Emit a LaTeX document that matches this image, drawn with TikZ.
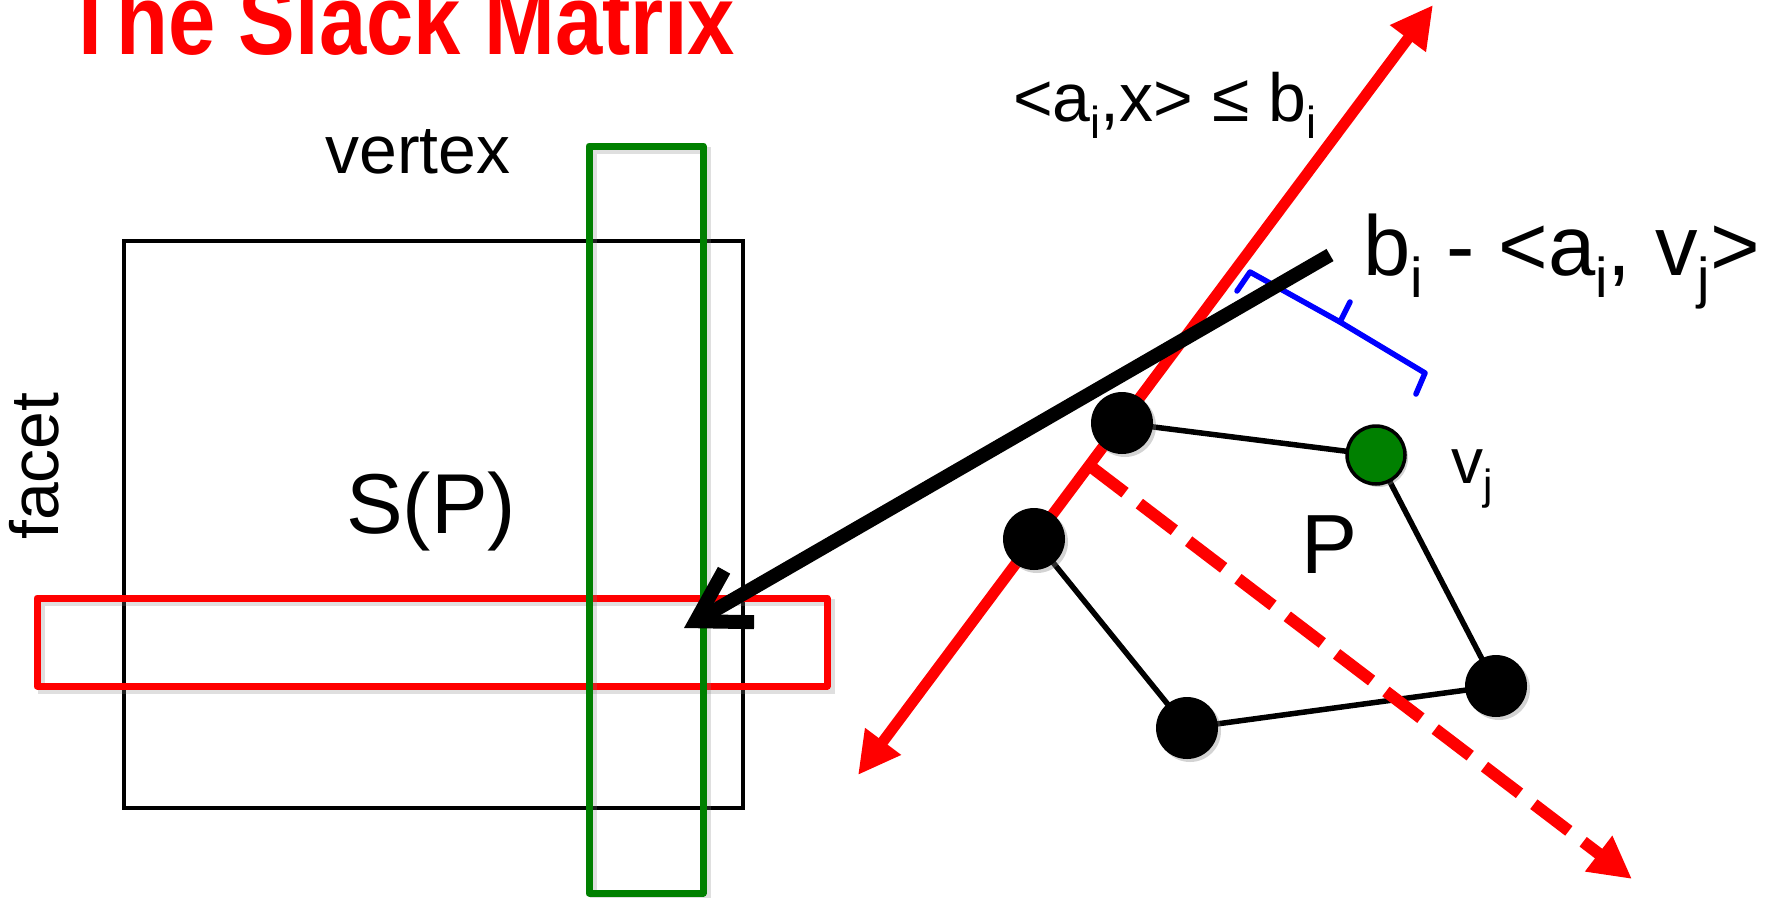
\documentclass[tikz,border=0pt]{standalone}
\usepackage{fontspec}
\setmainfont{Liberation Sans}
\usepackage{graphicx}
\usetikzlibrary{arrows.meta,shadows}
\newcommand\mysub[1]{\raisebox{-0.26em}{\scalebox{0.66}{#1}}}
\definecolor{pptgreen}{RGB}{0,128,0}
\definecolor{pptred}{RGB}{255,0,0}
\definecolor{pptblue}{RGB}{0,0,255}
\begin{document}
\begin{tikzpicture}[x=1pt,y=-1pt,
  shade line/.style={draw=black!50,opacity=0.25},
  matrixbox/.style={draw=black,line width=4.5pt},
  colbox/.style={draw=pptgreen,line width=7pt,line join=round},
  rowbox/.style={draw=pptred,line width=7pt,line join=round},
  facetline/.style={draw=pptred,line width=11pt,{Triangle[length=42pt,width=42pt]}-{Triangle[length=42pt,width=42pt]}},
  normalline/.style={draw=pptred,line width=12pt,dash pattern=on 44pt off 18pt,-{Triangle[length=42pt,width=42pt]}},
  edge/.style={draw=black,line width=5.5pt},
  vert/.style={circle,fill=black,minimum size=62pt,inner sep=0pt,
    drop shadow={shadow xshift=3pt,shadow yshift=-3pt,opacity=0.35}},
  gvert/.style={circle,fill=pptgreen,draw=black,line width=3.5pt,minimum size=58pt,inner sep=0pt,
    drop shadow={shadow xshift=3pt,shadow yshift=-3pt,opacity=0.35}},
  bracket/.style={draw=pptblue,line width=5.5pt,line join=round,line cap=round},
  pointer/.style={draw=black,line width=14pt,-{Straight Barb[length=50pt,width=60pt]}},
  lbl/.style={anchor=base west,inner sep=0pt,text=black}
]
\useasboundingbox (0,0) rectangle (1774,897);

% matrix and highlighted row/column
\draw[matrixbox] (124,241) rectangle (743,808);
\draw[shade line,line width=7pt] (41,602) rectangle (831,690);
\draw[rowbox] (37,598) rectangle (827,686);
\draw[shade line,line width=7pt] (593,150) rectangle (707,897);
\draw[colbox] (589,146) rectangle (703,893);

% polytope coordinates
\coordinate (pA) at (1122,423);
\coordinate (pV) at (1376,455);
\coordinate (pB) at (1034,539);
\coordinate (pC) at (1187,728);
\coordinate (pD) at (1496,686);

% facet line and normal
\coordinate (f1) at (858,775);
\coordinate (f2) at (1433,5);
\coordinate (n1) at (1090,466);
\coordinate (n2) at (1632,879);

\draw[edge] (pA) -- (pV) -- (pD) -- (pC) -- (pB);
\draw[facetline] (f1) -- (f2);
\draw[normalline] (n1) -- (n2);

% vertices
\node[vert] (A) at (pA) {};
\node[vert] (B) at (pB) {};
\node[vert] (C) at (pC) {};
\node[vert] (D) at (pD) {};
\node[gvert] (V) at (pV) {};

% blue bracket
\draw[bracket] (1237,291) -- (1250,272) -- (1340,322) -- (1350,302);
\draw[bracket] (1340,322) -- (1425,373) -- (1416,394);

% texts
\node[lbl,text=pptred,font=\fontsize{85}{90}\selectfont\bfseries] (title) at (64,54) {\scalebox{1}[1.17]{The Slack Matrix}};
\node[lbl,font=\fontsize{68}{80}\selectfont] (vertex) at (325,173) {vertex};
\node[lbl,font=\fontsize{68}{80}\selectfont,rotate=90] (facet) at (58,540) {facet};
\node[lbl,font=\fontsize{85}{95}\selectfont] (SP) at (346,533) {S(P)};
\node[lbl,font=\fontsize{68}{78}\selectfont] (ineq) at (1013,121) {<a\mysub{i},x> ≤ b\mysub{i}};
\node[lbl,font=\fontsize{85}{95}\selectfont] (slack) at (1363,275) {b\mysub{i} - <a\mysub{i}, v\mysub{j}>};
\node[lbl,font=\fontsize{64}{75}\selectfont] (vj) at (1451,483) {v\mysub{j}};
\node[lbl,font=\fontsize{84}{95}\selectfont] (P) at (1301,573) {P};

% pointer arrow from the slack label to the matrix entry
\coordinate (s1) at (1330,255);
\coordinate (s2) at (684,628);
\draw[pointer] (s1) -- (s2);
\end{tikzpicture}
\end{document}
